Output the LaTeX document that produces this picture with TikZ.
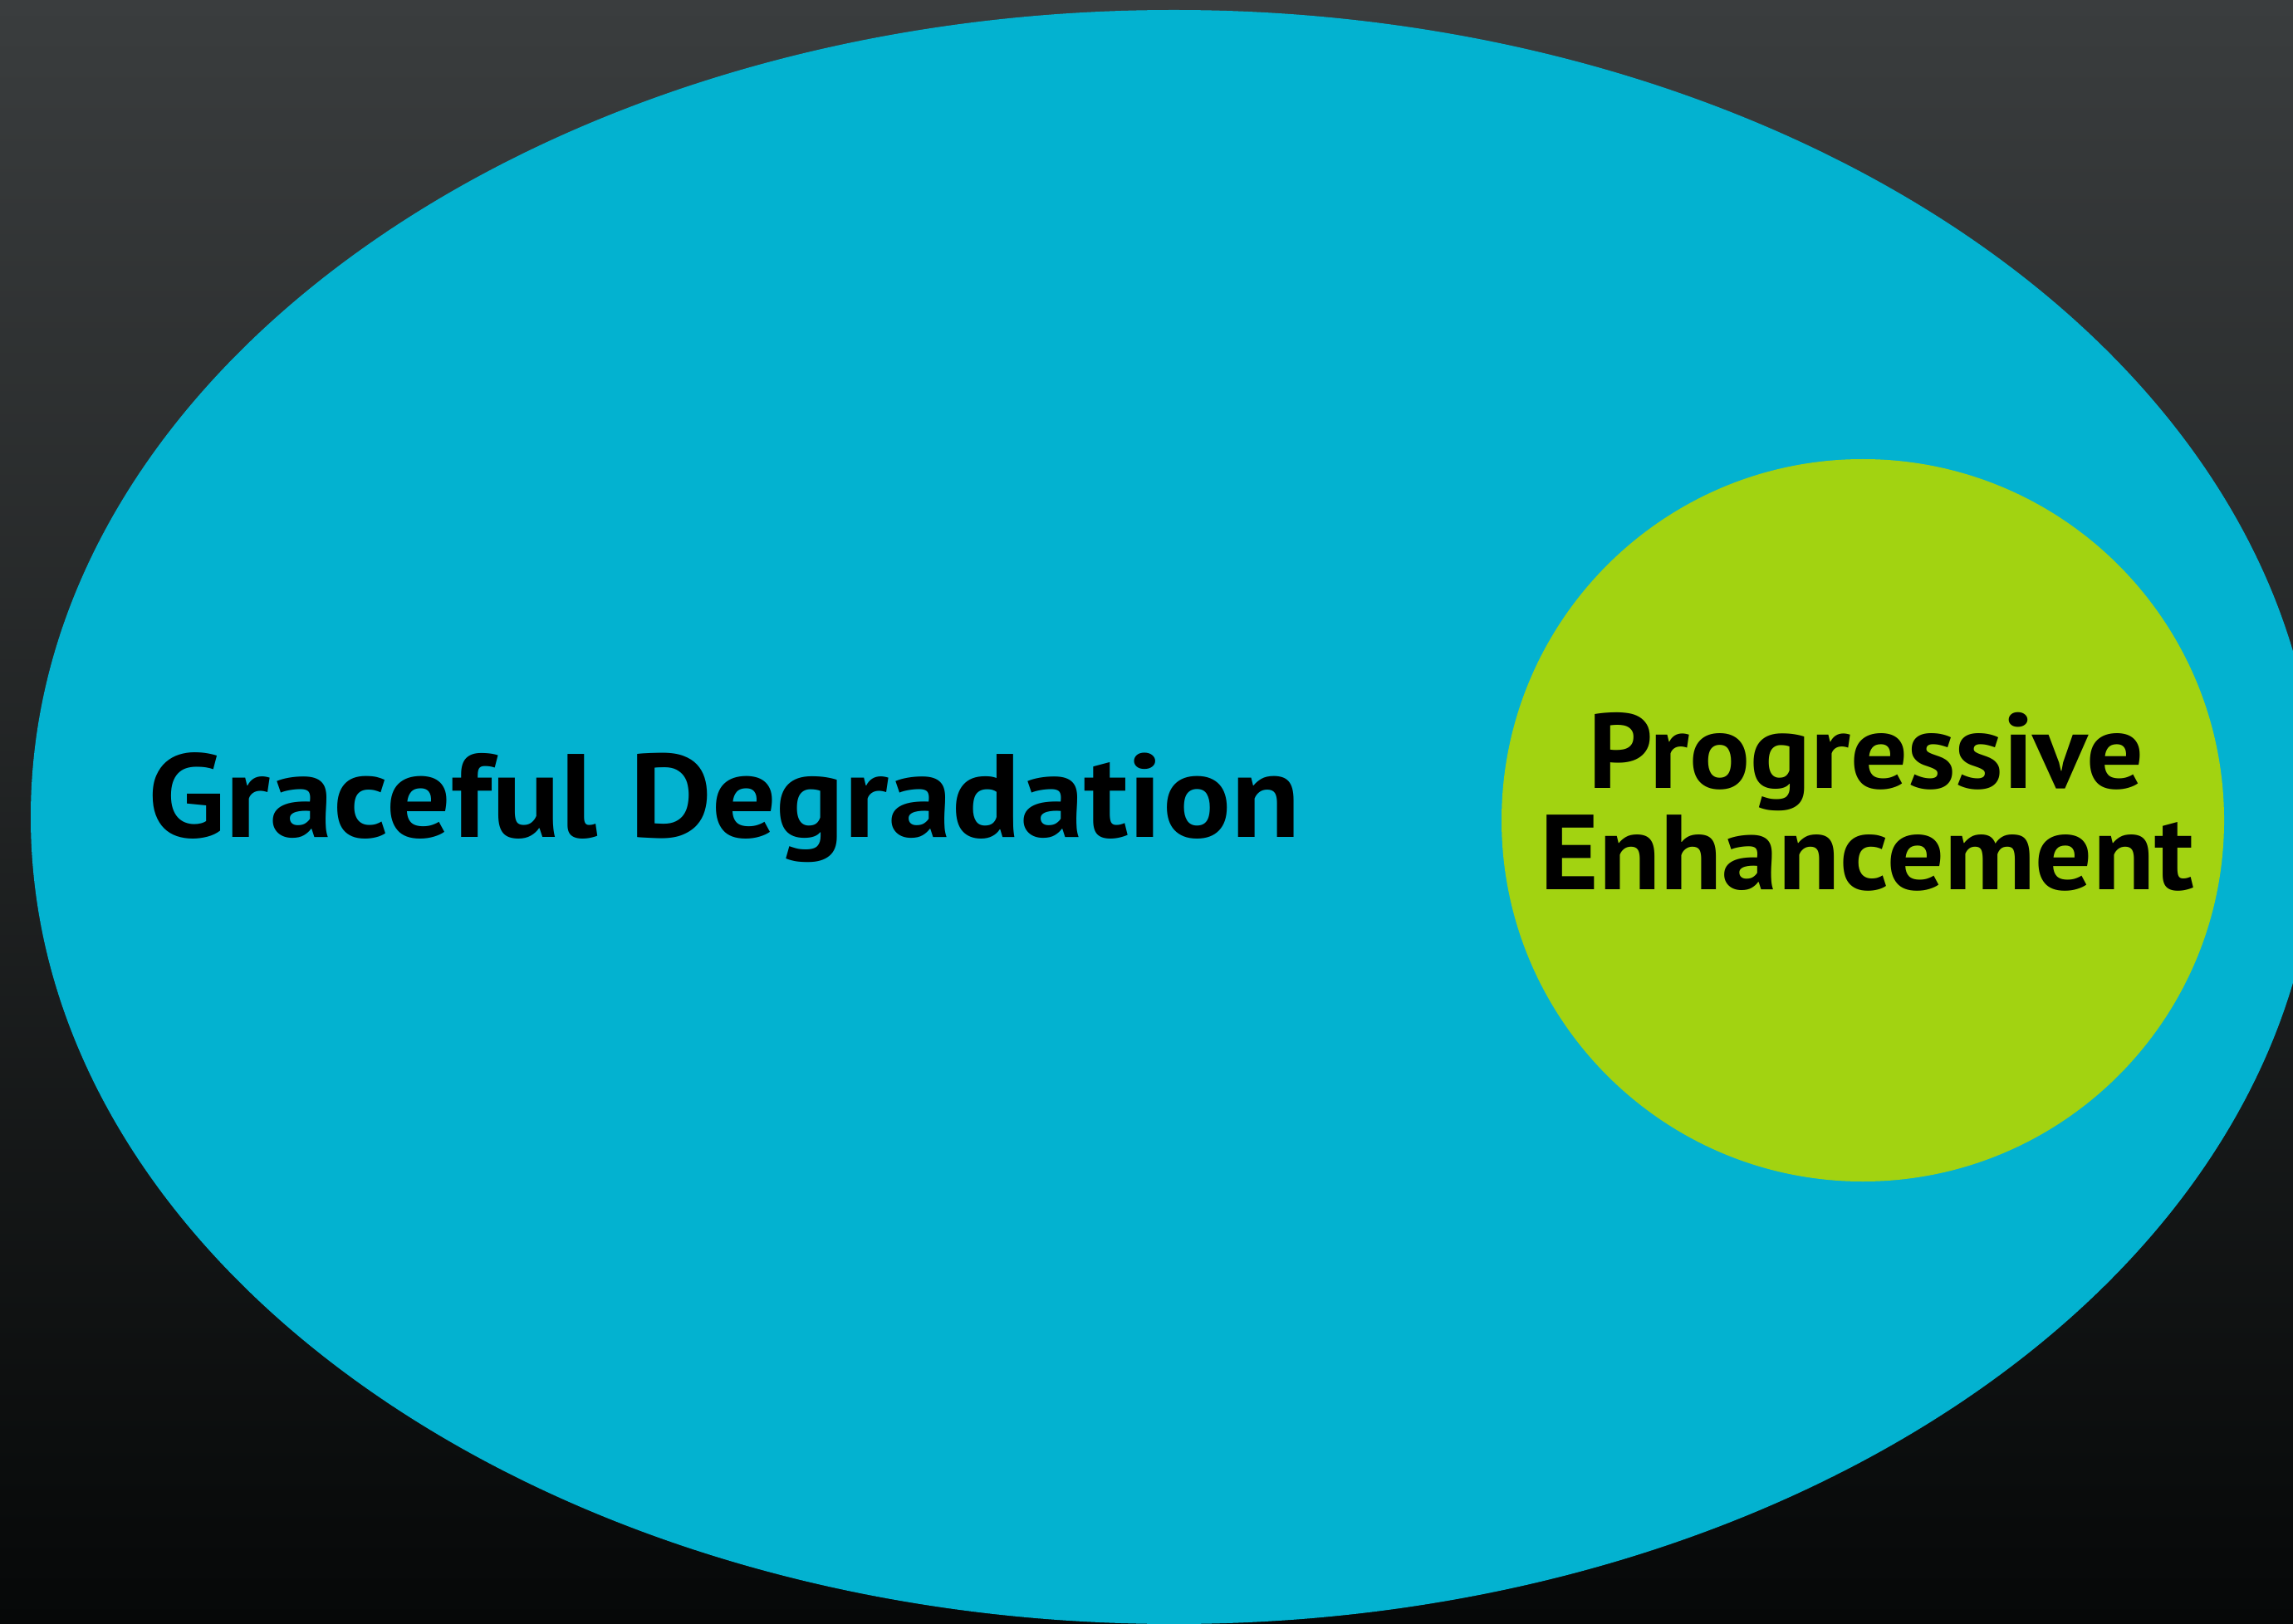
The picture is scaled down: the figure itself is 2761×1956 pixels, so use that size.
\documentclass[tikz,border=0pt]{standalone}
\usepackage{fontspec}
\setmainfont{PT Sans}
\newfontfamily\gdfont[FakeStretch=1.073]{PT Sans}
\newfontfamily\pefont[FakeStretch=1.06]{PT Sans}
\definecolor{bgtop}{RGB}{58,61,62}
\definecolor{bgbot}{RGB}{6,8,8}
\definecolor{cyanfill}{RGB}{3,178,208}
\definecolor{greenfill}{RGB}{162,211,17}
\tikzset{
  bigtext/.style={anchor=base, inner sep=0pt, text=black, font=\gdfont\bfseries\fontsize{35.7}{36}\selectfont},
  petext/.style={anchor=base, inner sep=0pt, text=black, font=\pefont\bfseries\fontsize{32.1}{32}\selectfont}
}
\begin{document}
\begin{tikzpicture}[x=0.25pt,y=-0.25pt]
\useasboundingbox (0,0) rectangle (2761,1956);
\clip (0,0) rectangle (2761,1956);
\shade[top color=bgtop, bottom color=bgbot] (0,0) rectangle (2761,1956);
\fill[cyanfill] (1413.5,984) ellipse [x radius=344.125pt, y radius=243pt];
\fill[greenfill] (2243,988) circle [radius=108.75pt];
\node[bigtext] (gd) at (872,1008) {Graceful Degradation};
\node[petext] (pe1) at (2247,949) {Progressive};
\node[petext] (pe2) at (2248,1071) {Enhancement};
\end{tikzpicture}
\end{document}
